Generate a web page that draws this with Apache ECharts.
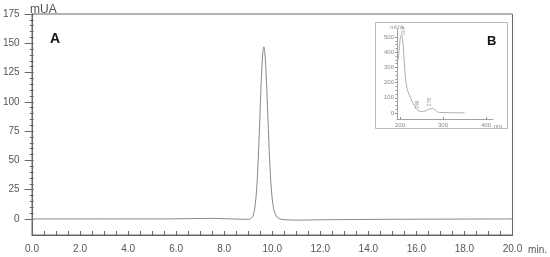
<!DOCTYPE html>
<html>
<head>
<meta charset="utf-8">
<script src="https://cdn.jsdelivr.net/npm/echarts/dist/echarts.min.js"></script>
<style>
  html, body { margin: 0; padding: 0; background: #fff; }
  #chart { width: 550px; height: 257px; }
</style>
</head>
<body>
<div id="chart"></div>
<script>
// chromatogram (A): retention time (min) vs absorbance (mUA)
const chromTime = [0, 2, 4, 6, 7, 7.5, 8, 8.5, 9.0, 9.1, 9.15, 9.2, 9.25, 9.3, 9.35, 9.4, 9.45, 9.5, 9.55, 9.6, 9.65,
  9.7, 9.75, 9.8, 9.85, 9.9, 9.95, 10.0, 10.05, 10.1, 10.2, 10.3, 10.5, 11.0, 12, 14, 16, 18, 20];
const chromValue = [0, 0, 0, 0.1, 0.4, 0.5, 0.2, -0.1, -0.3, 0.2, 1.1, 2.5, 6.5, 13.4, 25.3, 43.4, 67.3, 94.7, 121, 140, 147,
  140, 122, 97, 71, 47, 29, 17, 10, 5.5, 1.5, 0.2, -0.6, -1.0, -0.7, -0.4, -0.2, -0.1, 0];

// UV spectrum (B): wavelength (nm) vs absorbance (mUA)
const specNm = [196, 198, 200, 202, 204, 206, 208, 210, 212, 215, 218, 222, 226, 230, 234, 238, 242, 246, 250, 255,
  260, 265, 270, 275, 280, 285, 290, 300, 320, 350];
const specValue = [350, 420, 480, 505, 515, 490, 420, 330, 250, 180, 145, 115, 90, 65, 45, 28, 15, 12, 10, 11,
  15, 22, 28, 30, 24, 12, 5, 3, 2, 1];
const specPeaks = [[204, 515, '204'], [246, 12, '246'], [275, 30, '276']];

const axisColor = '#666';
const textColor = '#555';
const insetColor = '#888';

const chart = echarts.init(document.getElementById('chart'));

// hidden helper axes for the overlay grids (ticks/labels only)
function hiddenX(grid) {
  return { gridIndex: grid, type: 'value', min: 0, max: 1, show: false };
}
function hiddenY(grid) {
  return { gridIndex: grid, type: 'value', min: 0, max: 1, show: false };
}

chart.setOption({
  animation: false,
  backgroundColor: '#fff',
  textStyle: { fontFamily: 'Liberation Sans, Arial, sans-serif' },
  grid: [
    // 0: chromatogram data (y from -13.7 to 175)
    { left: 32, right: 34, top: 14, bottom: 22, show: true, borderColor: axisColor, borderWidth: 1 },
    // 1: y ticks/labels for chromatogram, 0..175
    { left: 32, right: 34, top: 14, bottom: 38 },
    // 2: spectrum data
    { left: 397, right: 57.1, top: 29.4, bottom: 137.9 },
    // 3: spectrum x ticks, 200..400
    { left: 400, right: 64, top: 29.4, bottom: 137.9 },
    // 4: spectrum y ticks, 0..500
    { left: 397, right: 57.1, top: 37, bottom: 144 }
  ],
  xAxis: [
    {
      gridIndex: 0, type: 'value', min: 0, max: 20, interval: 2,
      name: 'min.', nameLocation: 'end', nameGap: 12,
      nameTextStyle: { color: textColor, fontSize: 10, verticalAlign: 'top', padding: [10, 0, 0, 0] },
      axisLine: { onZero: false, lineStyle: { color: axisColor } },
      axisTick: { inside: true, length: 4, lineStyle: { color: axisColor } },
      minorTick: { show: true, splitNumber: 4, length: 4, lineStyle: { color: axisColor } },
      axisLabel: { color: textColor, fontSize: 10, margin: 9, formatter: v => v.toFixed(1) },
      splitLine: { show: false }
    },
    hiddenX(1),
    {
      gridIndex: 2, type: 'value', min: 193, max: 416,
      name: 'nm', nameLocation: 'end', nameGap: 1,
      nameTextStyle: { color: insetColor, fontSize: 6, verticalAlign: 'top', padding: [4, 0, 0, 0] },
      axisLine: { onZero: false, lineStyle: { color: insetColor, width: 0.8 } },
      axisTick: { show: false },
      axisLabel: { show: false },
      splitLine: { show: false }
    },
    {
      gridIndex: 3, type: 'value', min: 200, max: 400, interval: 100,
      axisLine: { show: false },
      axisTick: { inside: true, length: 2, lineStyle: { color: insetColor } },
      axisLabel: { color: insetColor, fontSize: 6, margin: 3 },
      splitLine: { show: false }
    },
    hiddenX(4)
  ],
  yAxis: [
    {
      gridIndex: 0, type: 'value', min: -13.7, max: 175,
      name: 'mUA', nameLocation: 'end', nameGap: 0,
      nameTextStyle: { color: textColor, fontSize: 12, align: 'left', verticalAlign: 'bottom', padding: [0, 0, -2, -2] },
      axisLine: { show: true, onZero: false, lineStyle: { color: axisColor } },
      axisTick: { show: false },
      axisLabel: { show: false },
      splitLine: { show: false }
    },
    {
      gridIndex: 1, type: 'value', min: 0, max: 175, interval: 25,
      axisLine: { show: false },
      axisTick: { length: 9, lineStyle: { color: axisColor } },
      minorTick: { show: true, splitNumber: 5, length: 4, lineStyle: { color: axisColor } },
      axisLabel: { color: textColor, fontSize: 10, margin: 14 },
      splitLine: { show: false }
    },
    {
      gridIndex: 2, type: 'value', min: -40, max: 550,
      name: 'mUA', nameLocation: 'end', nameGap: 0,
      nameTextStyle: { color: insetColor, fontSize: 6, align: 'center', verticalAlign: 'bottom', padding: [0, 0, -1, 0] },
      axisLine: { show: true, onZero: false, lineStyle: { color: insetColor, width: 0.8 } },
      axisTick: { show: false },
      axisLabel: { show: false },
      splitLine: { show: false }
    },
    hiddenY(3),
    {
      gridIndex: 4, type: 'value', min: 0, max: 500, interval: 100,
      axisLine: { show: false },
      axisTick: { length: 2, lineStyle: { color: insetColor } },
      minorTick: { show: true, splitNumber: 4, length: 1.5, lineStyle: { color: '#999' } },
      axisLabel: { color: insetColor, fontSize: 6, margin: 3 },
      splitLine: { show: false }
    }
  ],
  graphic: [
    {
      type: 'rect', left: 375, top: 22, z: 0,
      shape: { width: 132, height: 106 },
      style: { fill: '#fff', stroke: '#bbb', lineWidth: 1 }
    },
    { type: 'text', left: 50, top: 32, style: { text: 'A', font: 'bold 14px Liberation Sans, Arial', fill: '#111' } },
    { type: 'text', left: 487, top: 35, style: { text: 'B', font: 'bold 13px Liberation Sans, Arial', fill: '#111' } }
  ],
  series: [
    {
      type: 'line', xAxisIndex: 0, yAxisIndex: 0,
      data: chromTime.map((t, i) => [t, chromValue[i]]),
      showSymbol: false, smooth: 0.3,
      lineStyle: { color: '#888', width: 1 }
    },
    {
      type: 'line', xAxisIndex: 2, yAxisIndex: 2, z: 5,
      data: specNm.map((n, i) => [n, specValue[i]]),
      showSymbol: false, smooth: 0.3,
      lineStyle: { color: '#999', width: 0.8 },
      markPoint: {
        symbol: 'circle', symbolSize: 1,
        itemStyle: { color: 'rgba(0,0,0,0)' },
        label: { show: true, rotate: 90, color: '#999', fontSize: 5, position: 'top', distance: 6 },
        data: specPeaks.map((p, i) => ({
          coord: [p[0], p[1]], value: p[2],
          label: i === 0 ? { position: 'right', distance: 1 } : {}
        }))
      }
    }
  ]
});
</script>
</body>
</html>
